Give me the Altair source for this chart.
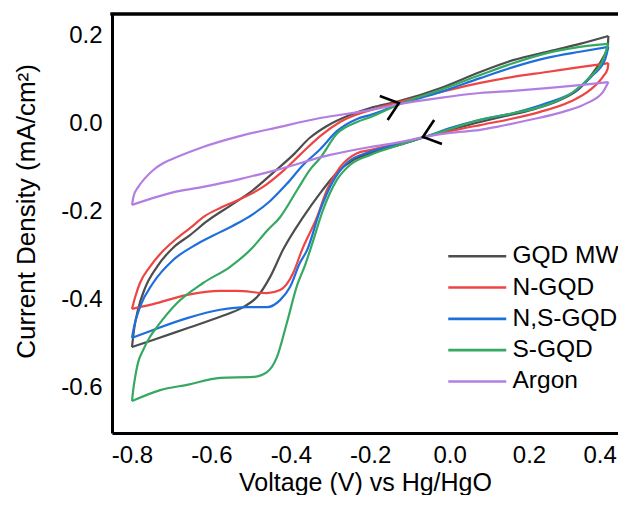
import altair as alt
import pandas as pd

# ---------------- data ----------------
SERIES = ["GQD MW", "N-GQD", "N,S-GQD", "S-GQD", "Argon"]
COLORS = ["#4d4d4d", "#ef4444", "#1f6fdb", "#35a862", "#b27ee2"]

GQD_FWD_V = [-0.800, -0.795, -0.785, -0.767, -0.737, -0.697, -0.654, -0.611, -0.553, -0.495, -0.445, -0.394,
             -0.352, -0.309, -0.251, -0.200, -0.125, -0.024, 0.077, 0.160, 0.245, 0.328, 0.400]
GQD_FWD_J = [-0.509, -0.470, -0.424, -0.374, -0.326, -0.283, -0.254, -0.222, -0.187, -0.151, -0.112, -0.071,
             -0.032, -0.005, 0.020, 0.036, 0.052, 0.081, 0.118, 0.145, 0.164, 0.182, 0.200]
GQD_REV_V = [0.400, 0.398, 0.386, 0.361, 0.328, 0.278, 0.203, 0.119, 0.077, 0.001, -0.062, -0.125, -0.200,
             -0.243, -0.284, -0.326, -0.369, -0.420, -0.452, -0.485, -0.520, -0.578, -0.661, -0.747, -0.800]
GQD_REV_J = [0.200, 0.175, 0.150, 0.116, 0.081, 0.054, 0.031, 0.013, 0.004, -0.014, -0.030, -0.048, -0.067,
             -0.083, -0.112, -0.158, -0.213, -0.288, -0.349, -0.395, -0.418, -0.440, -0.466, -0.493, -0.509]

N_FWD_V = [-0.800, -0.792, -0.780, -0.755, -0.722, -0.692, -0.654, -0.616, -0.578, -0.528, -0.470, -0.420,
           -0.377, -0.326, -0.276, -0.200, -0.125, -0.024, 0.077, 0.160, 0.245, 0.328, 0.400]
N_FWD_J = [-0.422, -0.395, -0.363, -0.326, -0.290, -0.265, -0.238, -0.210, -0.192, -0.172, -0.144, -0.108,
           -0.071, -0.028, 0.004, 0.031, 0.050, 0.072, 0.093, 0.107, 0.118, 0.129, 0.138]
N_REV_V = [0.400, 0.398, 0.386, 0.354, 0.303, 0.228, 0.145, 0.077, 0.001, -0.062, -0.125, -0.200, -0.233,
           -0.276, -0.309, -0.334, -0.372, -0.394, -0.427, -0.460, -0.536, -0.578, -0.661, -0.747, -0.800]
N_REV_J = [0.138, 0.125, 0.107, 0.077, 0.050, 0.027, 0.009, -0.003, -0.017, -0.030, -0.044, -0.060, -0.067,
           -0.099, -0.151, -0.213, -0.288, -0.340, -0.379, -0.386, -0.381, -0.381, -0.390, -0.411, -0.422]

NS_FWD_V = [-0.800, -0.795, -0.780, -0.747, -0.697, -0.636, -0.578, -0.528, -0.495, -0.452, -0.410, -0.369,
            -0.326, -0.284, -0.233, -0.200, -0.125, -0.024, 0.077, 0.160, 0.245, 0.328, 0.400]
NS_FWD_J = [-0.488, -0.463, -0.418, -0.363, -0.311, -0.274, -0.247, -0.224, -0.206, -0.176, -0.137, -0.094,
            -0.058, -0.017, 0.011, 0.020, 0.045, 0.072, 0.104, 0.129, 0.150, 0.164, 0.175]
NS_REV_V = [0.400, 0.391, 0.361, 0.321, 0.245, 0.160, 0.077, 0.001, -0.062, -0.125, -0.200, -0.258, -0.296,
            -0.326, -0.359, -0.377, -0.402, -0.427, -0.460, -0.510, -0.578, -0.661, -0.747, -0.800]
NS_REV_J = [0.175, 0.145, 0.111, 0.077, 0.047, 0.024, 0.009, -0.010, -0.030, -0.046, -0.064, -0.089, -0.135,
            -0.197, -0.288, -0.317, -0.372, -0.402, -0.418, -0.418, -0.424, -0.443, -0.470, -0.488]

S_FWD_V = [-0.800, -0.797, -0.792, -0.785, -0.772, -0.755, -0.737, -0.687, -0.621, -0.553, -0.495, -0.478,
           -0.460, -0.427, -0.384, -0.352, -0.326, -0.284, -0.233, -0.200, -0.125, -0.024, 0.077, 0.160,
           0.245, 0.328, 0.400]
S_FWD_J = [-0.632, -0.607, -0.577, -0.545, -0.516, -0.486, -0.463, -0.409, -0.363, -0.326, -0.281, -0.263,
           -0.244, -0.213, -0.151, -0.105, -0.078, -0.023, 0.004, 0.015, 0.045, 0.077, 0.111, 0.138,
           0.161, 0.175, 0.182]
S_REV_V = [0.400, 0.386, 0.354, 0.311, 0.245, 0.160, 0.077, 0.001, -0.062, -0.125, -0.200, -0.251, -0.284,
           -0.319, -0.347, -0.364, -0.384, -0.410, -0.435, -0.460, -0.495, -0.578, -0.661, -0.729, -0.800]
S_REV_J = [0.182, 0.145, 0.107, 0.072, 0.043, 0.024, 0.009, -0.012, -0.030, -0.048, -0.071, -0.094, -0.128,
           -0.197, -0.276, -0.322, -0.368, -0.454, -0.532, -0.566, -0.577, -0.579, -0.595, -0.607, -0.632]

AR_FWD_V = [-0.800, -0.796, -0.785, -0.767, -0.747, -0.722, -0.687, -0.621, -0.536, -0.427, -0.326, -0.200,
            -0.125, -0.024, 0.077, 0.160, 0.245, 0.328, 0.400]
AR_FWD_J = [-0.185, -0.165, -0.145, -0.124, -0.106, -0.090, -0.076, -0.053, -0.030, -0.007, 0.013, 0.031,
            0.045, 0.059, 0.070, 0.075, 0.081, 0.088, 0.095]
AR_REV_V = [0.400, 0.386, 0.346, 0.286, 0.203, 0.119, 0.077, 0.001, -0.062, -0.125, -0.200, -0.301, -0.435,
            -0.536, -0.621, -0.704, -0.800]
AR_REV_J = [0.095, 0.072, 0.047, 0.027, 0.009, -0.007, -0.014, -0.021, -0.030, -0.042, -0.053, -0.071, -0.105,
            -0.128, -0.144, -0.158, -0.185]

# scan-direction markers (tip position, direction)
ARROW_V = [-0.128, -0.067]
ARROW_J = [0.047, -0.030]
ARROW_ANGLE = [342, 162]

X_TICKS = [-0.8, -0.6, -0.4, -0.2, 0.0, 0.2, 0.4]
Y_TICKS = [-0.6, -0.4, -0.2, 0.0, 0.2]

# ---------------- build table ----------------
branches = [
    ("GQD MW", "fwd", GQD_FWD_V, GQD_FWD_J), ("GQD MW", "rev", GQD_REV_V, GQD_REV_J),
    ("N-GQD", "fwd", N_FWD_V, N_FWD_J), ("N-GQD", "rev", N_REV_V, N_REV_J),
    ("N,S-GQD", "fwd", NS_FWD_V, NS_FWD_J), ("N,S-GQD", "rev", NS_REV_V, NS_REV_J),
    ("S-GQD", "fwd", S_FWD_V, S_FWD_J), ("S-GQD", "rev", S_REV_V, S_REV_J),
    ("Argon", "fwd", AR_FWD_V, AR_FWD_J), ("Argon", "rev", AR_REV_V, AR_REV_J),
]
rows = []
for name, br, xs, ys in branches:
    for x, y in zip(xs, ys):
        rows.append({"series": name, "branch": name + "_" + br, "v": x, "j": y})
df = pd.DataFrame(rows)
arrows = pd.DataFrame({"v": ARROW_V, "j": ARROW_J, "ang": ARROW_ANGLE})

W, H = 506, 419
FONT = "Liberation Sans"
HYPHEN_LABEL = "replace(format(datum.value, '.1f'), '\u2212', '-')"

xscale = alt.Scale(domain=[-0.8504, 0.4242], nice=False, zero=False)
yscale = alt.Scale(domain=[-0.7048, 0.2501], nice=False, zero=False)

lines = alt.Chart(df).mark_line(strokeWidth=2.2, interpolate="monotone").encode(
    x=alt.X("v:Q", scale=xscale,
            axis=alt.Axis(title="Voltage (V) vs Hg/HgO", values=X_TICKS, labelExpr=HYPHEN_LABEL,
                          titleY=57, titleBaseline="alphabetic", titleFontSize=25,
                          labelPadding=10, labelFlush=12, labelFlushOffset=8)),
    y=alt.Y("j:Q", scale=yscale,
            axis=alt.Axis(title="Current Density (mA/cm²)", values=Y_TICKS, labelExpr=HYPHEN_LABEL,
                          titleX=-73, titleY=197, labelPadding=10)),
    color=alt.Color("series:N", scale=alt.Scale(domain=SERIES, range=COLORS),
                    legend=alt.Legend(title=None, orient="none", legendX=353, legendY=230,
                                      symbolType="M-4,0H4", symbolSize=210, symbolStrokeWidth=2.6,
                                      labelFontSize=24.5, labelFont=FONT, labelColor="black",
                                      labelOffset=23, rowPadding=6.3, padding=0)),
    detail="branch:N",
)

marks = alt.Chart(arrows).mark_point(
    shape="M-1,-0.8L0,0L-1,0.8", size=1000, filled=False, color="black",
    strokeWidth=2.6, opacity=1
).encode(
    x=alt.X("v:Q", scale=xscale),
    y=alt.Y("j:Q", scale=yscale),
    angle=alt.Angle("ang:Q", scale=None),
)

top = alt.Chart(arrows).mark_rule(color="black", strokeWidth=3).encode(
    x=alt.value(-1.5), x2=alt.value(W), y=alt.value(0)
)

chart = alt.layer(lines, marks, top).properties(
    width=W, height=H,
    autosize=alt.AutoSizeParams(type="none"),
    padding={"left": 104, "top": 6, "right": 0, "bottom": 62},
).configure_view(stroke=None).configure_axis(
    grid=False, ticks=False, tickSize=0, domainColor="black", domainWidth=3,
    labelFont=FONT, labelFontSize=24, labelColor="black",
    titleFont=FONT, titleFontSize=26, titleFontWeight="normal", titleColor="black",
)

chart.save("out.html", embed_options={"renderer": "svg", "actions": False})
